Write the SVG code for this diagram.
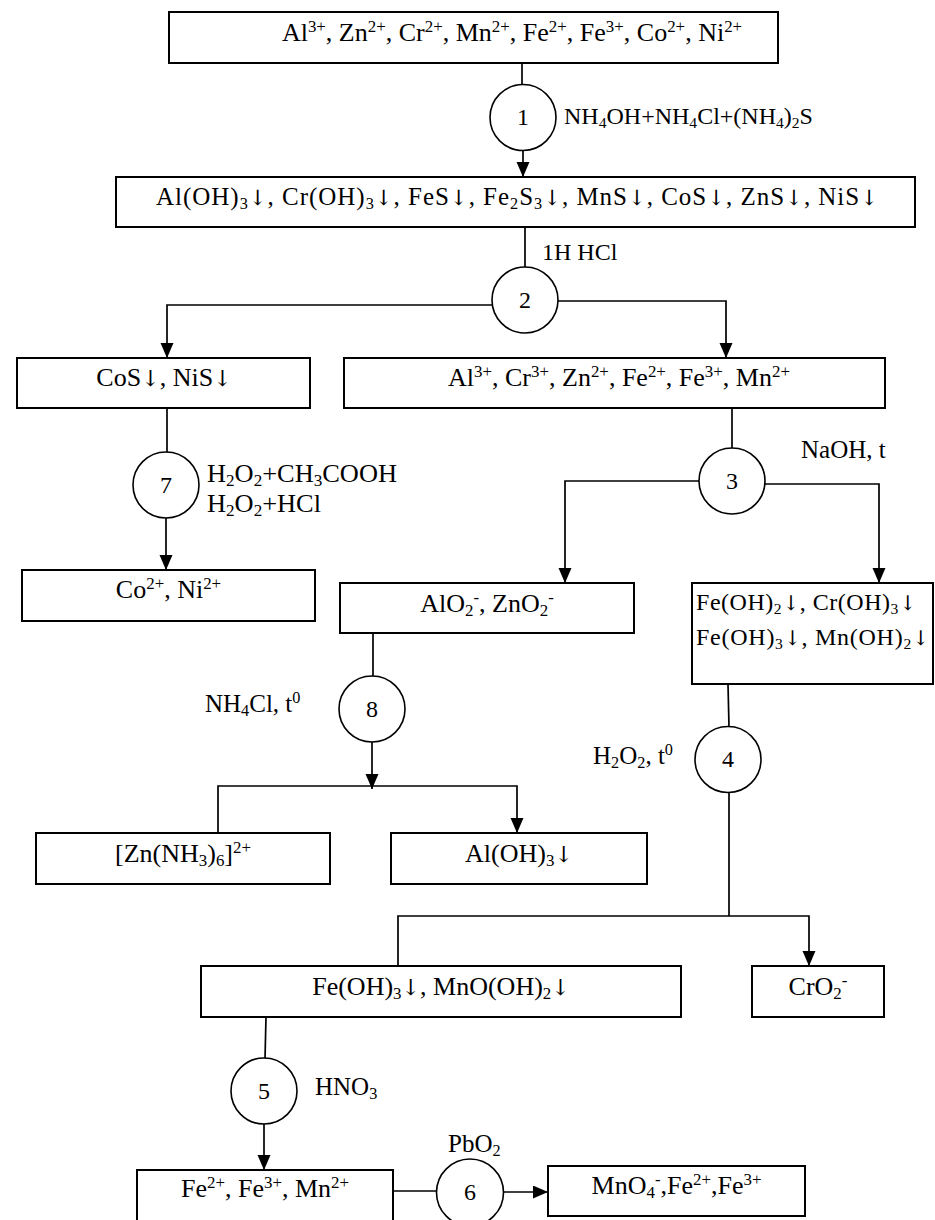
<svg xmlns="http://www.w3.org/2000/svg" width="935" height="1220" viewBox="0 0 935 1220">
<style>
.b{fill:#fff;stroke:#000;stroke-width:2}
.c{fill:#fff;stroke:#000;stroke-width:1.6}
.l{fill:none;stroke:#000;stroke-width:1.7}
.a{marker-end:url(#ah)}
text{font-family:"Liberation Serif","Times New Roman",serif;fill:#000}
.f26{font-size:26px}.f25{font-size:25px}.f24{font-size:24px}.f23{font-size:23px}
.m{text-anchor:middle}
.u{font-size:65%}
.r{font-family:"DejaVu Serif","DejaVu Sans",serif;font-size:85%;fill:#000}
</style>
<defs>
<marker id="ah" markerUnits="userSpaceOnUse" markerWidth="16" markerHeight="14" refX="15" refY="6.5" orient="auto">
<path d="M0,0 L15,6.5 L0,13 z" fill="#000"/>
</marker>
</defs>
<rect width="935" height="1220" fill="#fff"/>
<g id="connectors">
<line class="l" x1="522" y1="63" x2="522" y2="84"/>
<line class="l a" x1="523" y1="151" x2="523" y2="177"/>
<line class="l" x1="525" y1="227" x2="525" y2="268"/>
<polyline class="l a" points="492,305 167,305 167,358"/>
<polyline class="l a" points="558,301 726,301 726,358"/>
<line class="l" x1="167" y1="408" x2="167" y2="452"/>
<line class="l a" x1="166" y1="518" x2="166" y2="570"/>
<line class="l" x1="732" y1="408" x2="732" y2="448"/>
<polyline class="l a" points="699,481 565,481 565,583"/>
<polyline class="l a" points="765,484 879,484 879,583"/>
<line class="l" x1="373" y1="633" x2="373" y2="676"/>
<line class="l a" x1="372" y1="742" x2="372" y2="789"/>
<polyline class="l a" points="218,833 218,786 517,786 517,833"/>
<line class="l" x1="728" y1="684" x2="729" y2="727"/>
<line class="l" x1="729" y1="792" x2="729" y2="916"/>
<polyline class="l a" points="398,966 398,916 809,916 809,966"/>
<line class="l" x1="266" y1="1017" x2="265" y2="1059"/>
<line class="l a" x1="264" y1="1124" x2="264" y2="1170"/>
<line class="l" x1="393" y1="1191" x2="437" y2="1191"/>
<line class="l a" x1="503" y1="1192" x2="548" y2="1192"/>
</g>
<g id="box1">
<rect class="b" x="169" y="12" width="609" height="51"/>
<text class="f26 m" x="512" y="41">Al<tspan class="u" dy="-9">3+</tspan><tspan dy="9">, Zn</tspan><tspan class="u" dy="-9">2+</tspan><tspan dy="9">, Cr</tspan><tspan class="u" dy="-9">2+</tspan><tspan dy="9">, Mn</tspan><tspan class="u" dy="-9">2+</tspan><tspan dy="9">, Fe</tspan><tspan class="u" dy="-9">2+</tspan><tspan dy="9">, Fe</tspan><tspan class="u" dy="-9">3+</tspan><tspan dy="9">, Co</tspan><tspan class="u" dy="-9">2+</tspan><tspan dy="9">, Ni</tspan><tspan class="u" dy="-9">2+</tspan></text>
</g>
<g id="step1">
<circle class="c" cx="523" cy="117.5" r="33"/>
<text class="f24 m" x="523" y="125">1</text>
<text class="f24" x="564" y="124">NH<tspan class="u" dy="4">4</tspan><tspan dy="-4">OH+NH</tspan><tspan class="u" dy="4">4</tspan><tspan dy="-4">Cl+(NH</tspan><tspan class="u" dy="4">4</tspan><tspan dy="-4">)</tspan><tspan class="u" dy="4">2</tspan><tspan dy="-4">S</tspan></text>
</g>
<g id="box2">
<rect class="b" x="116" y="177" width="799" height="50"/>
<text class="f25 m" x="517" y="205" textLength="722" lengthAdjust="spacing">Al(OH)<tspan class="u" dy="4">3</tspan><tspan class="r" dy="-4">↓</tspan><tspan>, Cr(OH)</tspan><tspan class="u" dy="4">3</tspan><tspan class="r" dy="-4">↓</tspan><tspan>, FeS</tspan><tspan class="r">↓</tspan><tspan>, Fe</tspan><tspan class="u" dy="4">2</tspan><tspan dy="-4">S</tspan><tspan class="u" dy="4">3</tspan><tspan class="r" dy="-4">↓</tspan><tspan>, MnS</tspan><tspan class="r">↓</tspan><tspan>, CoS</tspan><tspan class="r">↓</tspan><tspan>, ZnS</tspan><tspan class="r">↓</tspan><tspan>, NiS</tspan><tspan class="r">↓</tspan></text>
</g>
<g id="step2">
<text class="f24" x="542" y="260">1H HCl</text>
<circle class="c" cx="525" cy="300" r="33"/>
<text class="f24 m" x="525" y="308">2</text>
</g>
<g id="box-cos">
<rect class="b" x="17" y="358" width="293" height="50"/>
<text class="f26 m" x="164" y="386">CoS<tspan class="r">↓</tspan><tspan>, NiS</tspan><tspan class="r">↓</tspan></text>
</g>
<g id="box-al">
<rect class="b" x="344" y="358" width="541" height="50"/>
<text class="f26 m" x="619" y="386">Al<tspan class="u" dy="-9">3+</tspan><tspan dy="9">, Cr</tspan><tspan class="u" dy="-9">3+</tspan><tspan dy="9">, Zn</tspan><tspan class="u" dy="-9">2+</tspan><tspan dy="9">, Fe</tspan><tspan class="u" dy="-9">2+</tspan><tspan dy="9">, Fe</tspan><tspan class="u" dy="-9">3+</tspan><tspan dy="9">, Mn</tspan><tspan class="u" dy="-9">2+</tspan></text>
</g>
<g id="step7">
<circle class="c" cx="166" cy="485" r="33"/>
<text class="f24 m" x="166" y="493">7</text>
<text class="f25" x="207" y="482" textLength="190" lengthAdjust="spacingAndGlyphs">H<tspan class="u" dy="4">2</tspan><tspan dy="-4">O</tspan><tspan class="u" dy="4">2</tspan><tspan dy="-4">+CH</tspan><tspan class="u" dy="4">3</tspan><tspan dy="-4">COOH</tspan></text>
<text class="f25" x="207" y="512" textLength="114" lengthAdjust="spacingAndGlyphs">H<tspan class="u" dy="4">2</tspan><tspan dy="-4">O</tspan><tspan class="u" dy="4">2</tspan><tspan dy="-4">+HCl</tspan></text>
</g>
<g id="box-coni">
<rect class="b" x="22" y="570" width="293" height="51"/>
<text class="f26 m" x="168.5" y="598">Co<tspan class="u" dy="-9">2+</tspan><tspan dy="9">, Ni</tspan><tspan class="u" dy="-9">2+</tspan></text>
</g>
<g id="step3">
<circle class="c" cx="732" cy="481" r="33"/>
<text class="f24 m" x="732" y="489">3</text>
<text class="f25" x="801" y="458">NaOH, t</text>
</g>
<g id="box-alo2">
<rect class="b" x="340" y="583" width="294" height="50"/>
<text class="f26 m" x="487" y="612">AlO<tspan class="u" dy="4">2</tspan><tspan class="u" dy="-13">-</tspan><tspan dy="9">, ZnO</tspan><tspan class="u" dy="4">2</tspan><tspan class="u" dy="-13">-</tspan></text>
</g>
<g id="box-feoh2">
<rect class="b" x="692" y="583" width="241" height="101"/>
<text class="f24" x="696" y="610" textLength="220" lengthAdjust="spacing">Fe(OH)<tspan class="u" dy="4">2</tspan><tspan class="r" dy="-4">↓</tspan><tspan>, Cr(OH)</tspan><tspan class="u" dy="4">3</tspan><tspan class="r" dy="-4">↓</tspan></text>
<text class="f24" x="696" y="645" textLength="233" lengthAdjust="spacing">Fe(OH)<tspan class="u" dy="4">3</tspan><tspan class="r" dy="-4">↓</tspan><tspan>, Mn(OH)</tspan><tspan class="u" dy="4">2</tspan><tspan class="r" dy="-4">↓</tspan></text>
</g>
<g id="step8">
<circle class="c" cx="372" cy="709" r="33"/>
<text class="f24 m" x="372" y="717">8</text>
<text class="f25" x="205" y="712">NH<tspan class="u" dy="4">4</tspan><tspan dy="-4">Cl, t</tspan><tspan class="u" dy="-9">0</tspan></text>
</g>
<g id="box-zn">
<rect class="b" x="36" y="833" width="294" height="51"/>
<text class="f26 m" x="183" y="862">[Zn(NH<tspan class="u" dy="4">3</tspan><tspan dy="-4">)</tspan><tspan class="u" dy="4">6</tspan><tspan dy="-4">]</tspan><tspan class="u" dy="-9">2+</tspan></text>
</g>
<g id="box-aloh3">
<rect class="b" x="391" y="833" width="256" height="51"/>
<text class="f26 m" x="519" y="862">Al(OH)<tspan class="u" dy="4">3</tspan><tspan class="r" dy="-4">↓</tspan></text>
</g>
<g id="step4">
<circle class="c" cx="728" cy="759.5" r="33"/>
<text class="f24 m" x="728" y="767">4</text>
<text class="f25" x="593" y="764">H<tspan class="u" dy="4">2</tspan><tspan dy="-4">O</tspan><tspan class="u" dy="4">2</tspan><tspan dy="-4">, t</tspan><tspan class="u" dy="-9">0</tspan></text>
</g>
<g id="box-feoh3">
<rect class="b" x="201" y="966" width="480" height="51"/>
<text class="f26 m" x="441" y="995">Fe(OH)<tspan class="u" dy="4">3</tspan><tspan class="r" dy="-4">↓</tspan><tspan>, MnO(OH)</tspan><tspan class="u" dy="4">2</tspan><tspan class="r" dy="-4">↓</tspan></text>
</g>
<g id="box-cro2">
<rect class="b" x="752" y="966" width="132" height="51"/>
<text class="f26 m" x="818" y="995">CrO<tspan class="u" dy="4">2</tspan><tspan class="u" dy="-13">-</tspan></text>
</g>
<g id="step5">
<circle class="c" cx="264" cy="1091" r="33"/>
<text class="f24 m" x="264" y="1099">5</text>
<text class="f25" x="315" y="1095">HNO<tspan class="u" dy="4">3</tspan></text>
</g>
<g id="box-fe">
<rect class="b" x="137" y="1170" width="256" height="60"/>
<text class="f26 m" x="265" y="1197">Fe<tspan class="u" dy="-9">2+</tspan><tspan dy="9">, Fe</tspan><tspan class="u" dy="-9">3+</tspan><tspan dy="9">, Mn</tspan><tspan class="u" dy="-9">2+</tspan></text>
</g>
<g id="step6">
<circle class="c" cx="470" cy="1192.5" r="33.5"/>
<text class="f24 m" x="470" y="1200">6</text>
<text class="f25" x="448" y="1152">PbO<tspan class="u" dy="4">2</tspan></text>
</g>
<g id="box-mno4">
<rect class="b" x="548" y="1166" width="257" height="50"/>
<text class="f26 m" x="676.5" y="1194">MnO<tspan class="u" dy="4">4</tspan><tspan class="u" dy="-13">-</tspan><tspan dy="9">,Fe</tspan><tspan class="u" dy="-9">2+</tspan><tspan dy="9">,Fe</tspan><tspan class="u" dy="-9">3+</tspan></text>
</g>
</svg>
